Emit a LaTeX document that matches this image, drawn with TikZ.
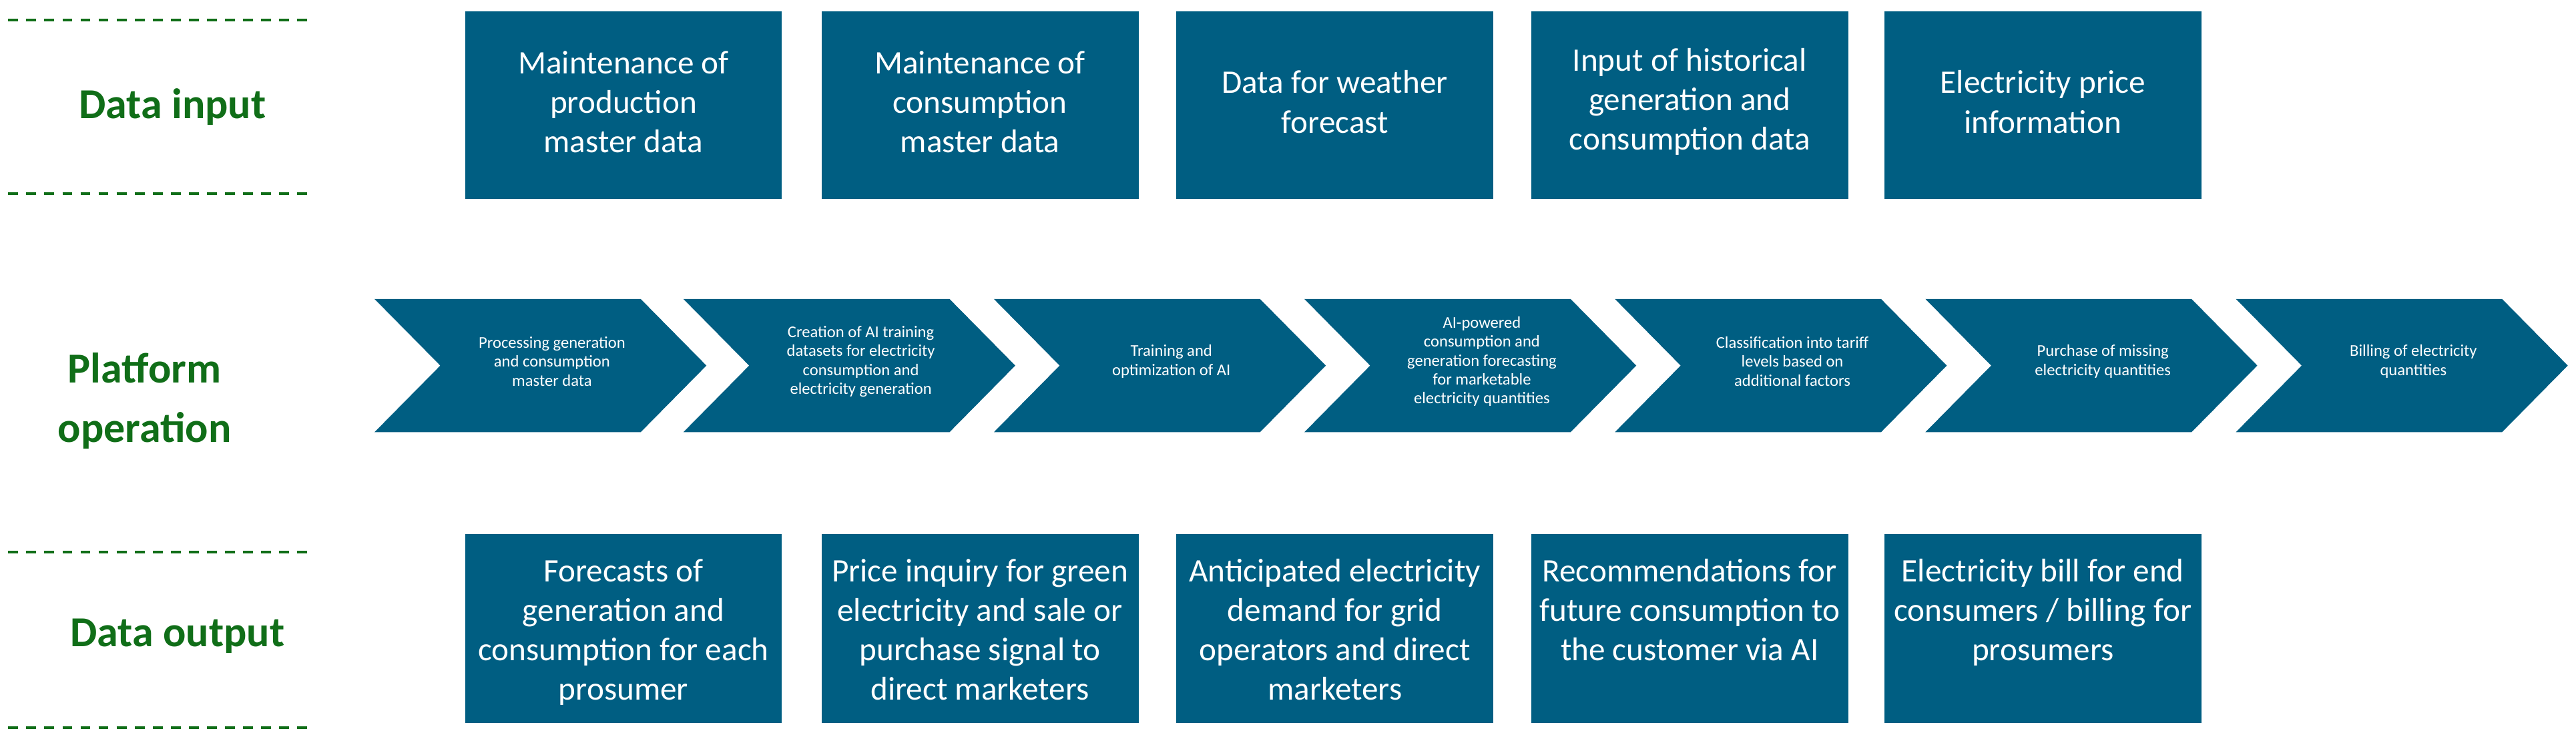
\documentclass[tikz,border=0pt]{standalone}
\usepackage{fontspec}
\setmainfont{Carlito}
\definecolor{boxc}{RGB}{0,94,130}
\definecolor{grn}{RGB}{16,110,24}
\begin{document}
\begin{tikzpicture}[x=1pt,y=-1pt,
 box/.style={fill=boxc,text=white,align=center,font=\fontsize{20}{24}\selectfont,inner sep=0},
 lab/.style={text=grn,align=center,font=\fontsize{26}{36}\selectfont\bfseries},
 gdash/.style={grn,line width=1.6pt,dash pattern=on 6pt off 5pt},
 ctext/.style={text=white,align=center,font=\fontsize{10}{11.5}\selectfont}]
\useasboundingbox (0,0) rectangle (1568,451);
\draw[gdash] (5,12) -- (188,12);
\draw[gdash] (5,118) -- (188,118);
\draw[gdash] (5,336) -- (188,336);
\draw[gdash] (5,443) -- (188,443);
\node[lab] (in) at (105,65) {Data input};
\node[lab] (po) at (88,244) {Platform\\operation};
\node[lab] (out) at (108,387) {Data output};
\foreach \x/\n/\t in {283/t1/{Maintenance of\\production\\master data},500/t2/{Maintenance of\\consumption\\master data},716/t3/{Data for weather\\forecast},932/t4/{Input of historical\\generation and\\consumption data},1147/t5/{Electricity price\\information}}{
 \fill[boxc] (\x,7) rectangle ++(193,114);
 \node[box] (\n) at (\x+96.5,62) {\t};
}
\foreach \x/\n/\t in {283/b1/{Forecasts of\\generation and\\consumption for each\\prosumer},500/b2/{Price inquiry for green\\electricity and sale or\\purchase signal to\\direct marketers},716/b3/{Anticipated electricity\\demand for grid\\operators and direct\\marketers},932/b4/{Recommendations for\\future consumption to\\the customer via AI},1147/b5/{Electricity bill for end\\consumers / billing for\\prosumers}}{
 \fill[boxc] (\x,325) rectangle ++(193,115);
 \node[box,anchor=north] (\n) at (\x+96.5,340) {\t};
}
\foreach \x/\n/\t in {228/c1/{Processing generation\\and consumption\\master data},416/c2/{Creation of AI training\\datasets for electricity\\consumption and\\electricity generation},605/c3/{Training and\\optimization of AI},794/c4/{AI-powered\\consumption and\\generation forecasting\\for marketable\\electricity quantities},983/c5/{Classification into tariff\\levels based on\\additional factors},1172/c6/{Purchase of missing\\electricity quantities},1361/c7/{Billing of electricity\\quantities}}{
 \fill[boxc] (\x,182) -- (\x+162,182) -- (\x+202,222.5) -- (\x+162,263) -- (\x,263) -- (\x+40,222.5) -- cycle;
 \node[ctext] (\n) at (\x+108,220) {\t};
}
\end{tikzpicture}
\end{document}
